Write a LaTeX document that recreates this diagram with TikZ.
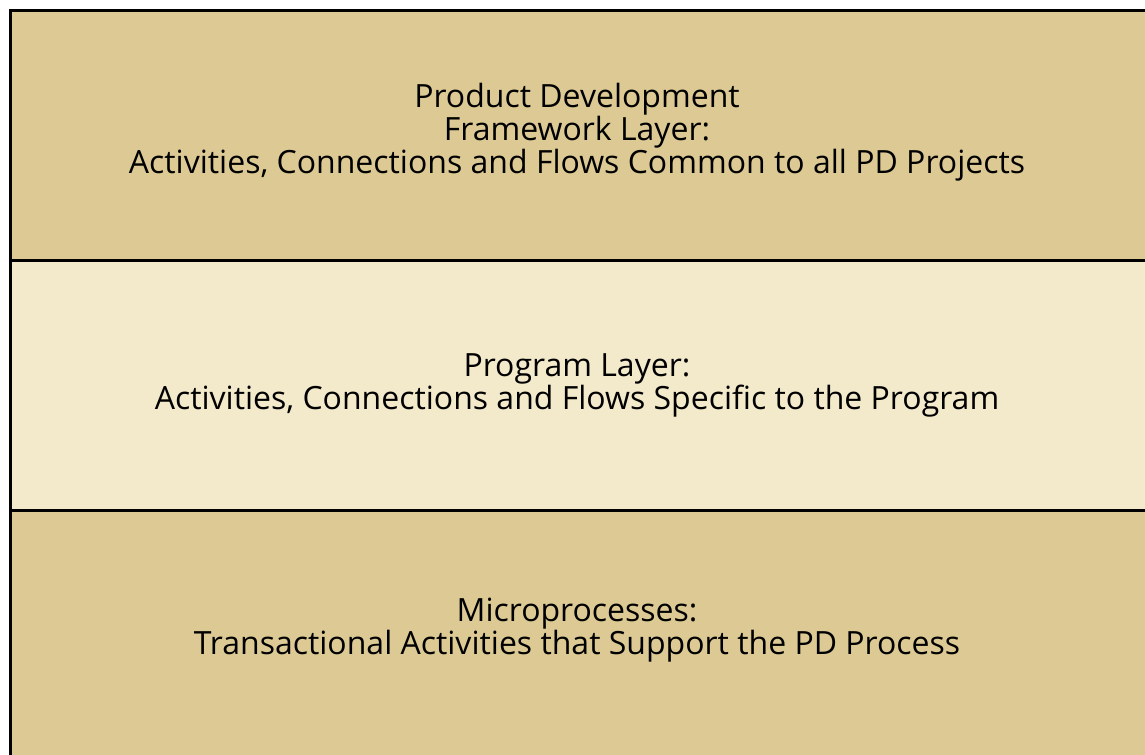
\documentclass[tikz,border=0pt]{standalone}
\usepackage{fontspec}
\setmainfont{Open Sans}
\definecolor{layertan}{RGB}{220,201,148}
\definecolor{layerlight}{RGB}{243,233,203}
\tikzset{
    layer/.style={draw=black, line width=2pt, minimum width=853.5pt, minimum height=187.5pt, inner sep=0pt, anchor=north west},
    layertext/.style={align=center, font=\fontsize{24}{24.8}\selectfont}
}
\begin{document}
\begin{tikzpicture}[x=0.75pt, y=-0.75pt]
        \useasboundingbox (0,0) rectangle (1145,755);
        \begin{scope}
        \clip (0,0) rectangle (1145,755);

        % Layers (top to bottom)
        \node[layer, fill=layertan] (framework) at (9,9) {};
        \node[layer, fill=layerlight] (program) at (9,259) {};
        \node[layer, fill=layertan] (micro) at (9,509) {};

        % Layer labels
        \node[layertext] (frameworklabel) at (577,132) {Product Development\\Framework Layer:\\Activities, Connections and Flows Common to all PD Projects};
        \node[layertext] (programlabel) at (577,385) {Program Layer:\\Activities, Connections and Flows Specific to the Program};
        \node[layertext] (microlabel) at (577,630) {Microprocesses:\\Transactional Activities that Support the PD Process};
        \end{scope}
    \end{tikzpicture}
\end{document}
